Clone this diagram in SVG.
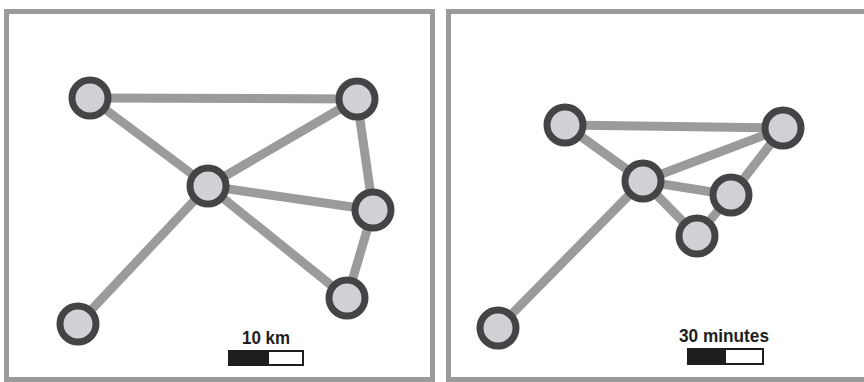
<svg xmlns="http://www.w3.org/2000/svg" width="864" height="382" viewBox="0 0 864 382">
<style>
.frame{fill:#fff;stroke:#9a9a9a;stroke-width:5}
.edge{stroke:#9b9b9b;stroke-width:9;stroke-linecap:round}
.node{fill:#d0d1d5;stroke:#434446;stroke-width:7}
.lbl{font-family:"Liberation Sans",Arial,sans-serif;font-weight:bold;font-size:18px;fill:#1e1e1e}
.barb{fill:#1e1e1e;stroke:#1e1e1e;stroke-width:2}
.barw{fill:#fff;stroke:#1e1e1e;stroke-width:2}
</style>
<rect width="864" height="382" fill="#fff"/>
<rect class="frame" x="6.5" y="11.5" width="426" height="368"/>
<rect class="frame" x="448.5" y="11.5" width="425" height="368"/>
<g id="connectors">
<line class="edge" x1="90" y1="98" x2="357" y2="99"/>
<line class="edge" x1="90" y1="98" x2="208" y2="186"/>
<line class="edge" x1="208" y1="186" x2="357" y2="99"/>
<line class="edge" x1="208" y1="186" x2="373" y2="210"/>
<line class="edge" x1="208" y1="186" x2="347" y2="298"/>
<line class="edge" x1="357" y1="99" x2="373" y2="210"/>
<line class="edge" x1="373" y1="210" x2="347" y2="298"/>
<line class="edge" x1="208" y1="186" x2="78" y2="324"/>
<line class="edge" x1="565" y1="125" x2="783" y2="128"/>
<line class="edge" x1="565" y1="125" x2="643" y2="181"/>
<line class="edge" x1="643" y1="181" x2="783" y2="128"/>
<line class="edge" x1="643" y1="181" x2="731" y2="195"/>
<line class="edge" x1="643" y1="181" x2="697" y2="236"/>
<line class="edge" x1="783" y1="128" x2="731" y2="195"/>
<line class="edge" x1="731" y1="195" x2="697" y2="236"/>
<line class="edge" x1="643" y1="181" x2="498" y2="328"/>
</g>
<g id="nA"><circle class="node" cx="90" cy="98" r="18"/></g>
<g id="nB"><circle class="node" cx="357" cy="99" r="18"/></g>
<g id="nC"><circle class="node" cx="208" cy="186" r="18"/></g>
<g id="nD"><circle class="node" cx="373" cy="210" r="18"/></g>
<g id="nE"><circle class="node" cx="347" cy="298" r="18"/></g>
<g id="nF"><circle class="node" cx="78" cy="324" r="18"/></g>
<g id="nG"><circle class="node" cx="565" cy="125" r="18"/></g>
<g id="nH"><circle class="node" cx="783" cy="128" r="18"/></g>
<g id="nI"><circle class="node" cx="643" cy="181" r="18"/></g>
<g id="nJ"><circle class="node" cx="731" cy="195" r="18"/></g>
<g id="nK"><circle class="node" cx="697" cy="236" r="18"/></g>
<g id="nL"><circle class="node" cx="498" cy="328" r="18"/></g>
<g id="scale1">
<text class="lbl" x="242" y="344" textLength="48" lengthAdjust="spacingAndGlyphs">10 km</text>
<rect class="barb" x="229" y="351" width="39" height="14"/>
<rect class="barw" x="268" y="351" width="35" height="14"/>
</g>
<g id="scale2">
<text class="lbl" x="679" y="342" textLength="90" lengthAdjust="spacingAndGlyphs">30 minutes</text>
<rect class="barb" x="688" y="349" width="37" height="15"/>
<rect class="barw" x="725" y="349" width="38" height="15"/>
</g>
</svg>
